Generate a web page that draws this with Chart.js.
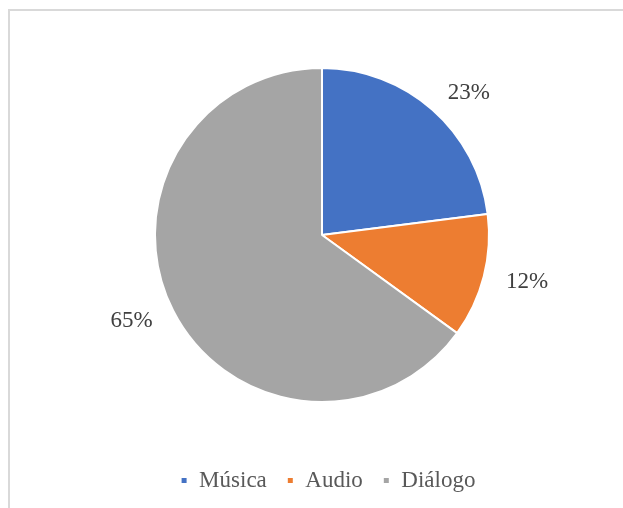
<!DOCTYPE html>
<html>
<head>
<meta charset="utf-8">
<script src="https://cdn.jsdelivr.net/npm/chart.js@4"></script>
<style>
  body { margin: 0; background: #fff; overflow: hidden; }
  #frame { position: absolute; left: 8px; top: 9px; width: 700px; height: 600px; border: 2px solid #d9d9d9; }
  #wrap { position: absolute; left: 0; top: 0; width: 623px; height: 508px; }
</style>
</head>
<body>
<div id="frame"></div>
<div id="wrap"><canvas id="pieChart"></canvas></div>
<script>
const categories = ["Música", "Audio", "Diálogo"];
const shares = [23, 12, 65];
const sliceColors = ["#4472C4", "#ED7D31", "#A5A5A5"];

// percent labels outside each slice, excel style
const outsideLabels = {
    id: 'outsideLabels',
    afterLayout(chart) {
        // legend sits a bit right of the pie centre in the original
        chart.legend.left += 6;
        chart.legend.right += 6;
    },
    afterDatasetsDraw(chart) {
        const ctx = chart.ctx;
        const meta = chart.getDatasetMeta(0);
        ctx.save();
        ctx.font = '23px "Liberation Serif", "Times New Roman", serif';
        ctx.fillStyle = '#404040';
        ctx.textBaseline = 'middle';
        meta.data.forEach((arc, i) => {
            const mid = (arc.startAngle + arc.endAngle) / 2;
            const d = arc.outerRadius + 23;
            const x = arc.x + Math.cos(mid) * d;
            const y = arc.y + Math.sin(mid) * d;
            ctx.textAlign = Math.cos(mid) >= 0 ? 'left' : 'right';
            ctx.fillText(shares[i] + '%', x, y);
        });
        ctx.restore();
    }
};

const ctx = document.getElementById("pieChart").getContext('2d');
new Chart(ctx, {
    type: 'pie',
    data: {
        labels: categories,
        datasets: [{
            data: shares,
            backgroundColor: sliceColors,
            borderColor: '#ffffff',
            borderWidth: 2,
            hoverOffset: 0
        }]
    },
    options: {
        responsive: true,
        maintainAspectRatio: false,
        animation: false,
        layout: { padding: { top: 21, left: 154, right: 133, bottom: 6 } },
        plugins: {
            tooltip: { enabled: false },
            legend: {
                position: 'bottom',
                labels: {
                    boxWidth: 7,
                    boxHeight: 7,
                    padding: 20,
                    color: '#595959',
                    font: { family: '"Liberation Serif", "Times New Roman", serif', size: 23 }
                }
            }
        }
    },
    plugins: [outsideLabels]
});
</script>
</body>
</html>
